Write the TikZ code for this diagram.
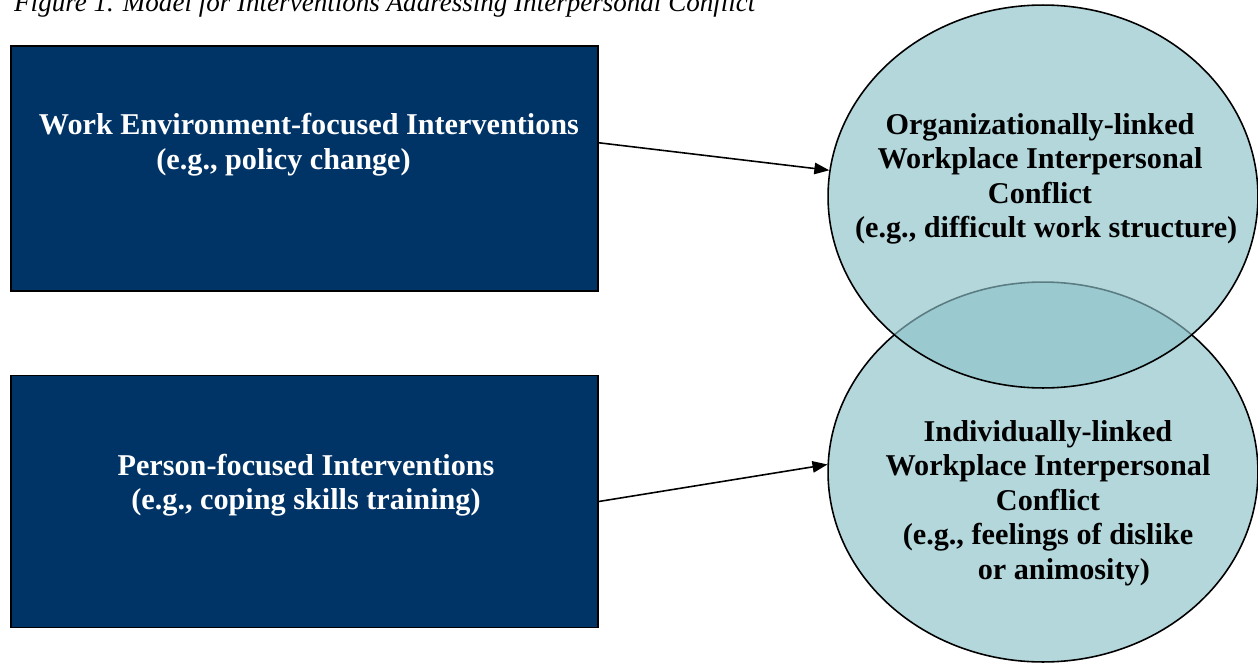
\documentclass[tikz,border=0pt]{standalone}
\usepackage{fontspec}
\setmainfont{Liberation Serif}
\usetikzlibrary{shapes.geometric,arrows.meta}

\definecolor{navy}{RGB}{0,51,102}
\definecolor{paleteal}{RGB}{140,193,201}

\tikzset{
    interv/.style={rectangle, draw=black, line width=0.9pt, fill=navy, minimum width=11.74cm, inner sep=0pt},
    conflict/.style={ellipse, draw=black, line width=0.9pt, fill=paleteal, fill opacity=0.65, minimum width=8.6cm, inner sep=0pt},
    boxtext/.style={text=white, align=center, font=\fontsize{17.2}{19.6}\selectfont\bfseries},
    circtext/.style={text=black, align=center, font=\fontsize{17.2}{19.6}\selectfont\bfseries},
    arr/.style={-{Triangle[length=8.5pt,width=6.5pt]}, line width=0.9pt}
}

\begin{document}
\begin{tikzpicture}[x=0.02cm, y=-0.02cm]

    \useasboundingbox (0,0) rectangle (1258,663);

    \node [anchor=base west, font=\fontsize{15.4}{18}\selectfont\itshape] (cap) at (8,11)
        {Figure 1. Model for Interventions Addressing Interpersonal Conflict};

    \node [interv, minimum height=4.9cm] (we) at (304.5,168.5) {};
    \node [interv, minimum height=5.04cm] (pf) at (304.5,501.5) {};

    % lower one first so the upper fill lies over its outline
    \node [conflict, minimum height=7.6cm] (ind) at (1043,472) {};
    \node [conflict, minimum height=7.66cm] (org) at (1043,196.5) {};

    \node [boxtext] (wetxt) at (309,144.5)
        {Work Environment-focused Interventions\\(e.g., policy change)\hspace*{29pt}};
    \node [boxtext] (pftxt) at (306,485)
        {Person-focused Interventions\\(e.g., coping skills training)};
    \node [circtext] (orgtxt) at (1040,179)
        {Organizationally-linked\\Workplace Interpersonal\\Conflict\\\hspace*{7pt}(e.g., difficult work structure)};
    \node [circtext] (indtxt) at (1048,503)
        {Individually-linked\\Workplace Interpersonal\\Conflict\\(e.g., feelings of dislike\\\hspace*{18pt}or animosity)};

    \draw [arr] (we.5.2) -- (org.173.5);
    \draw [arr] (pf.east) -- (ind.178);

\end{tikzpicture}
\end{document}
